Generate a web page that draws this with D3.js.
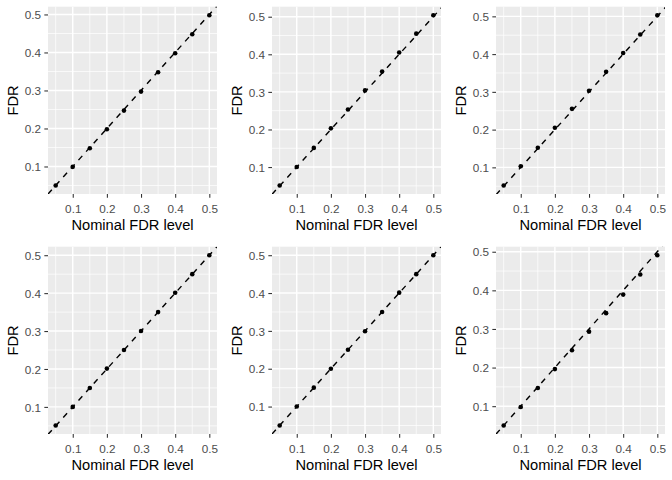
<!DOCTYPE html>
<html>
<head>
<meta charset="utf-8">
<script src="https://cdn.jsdelivr.net/npm/d3@7"></script>
<style>
  body { margin: 0; background: #fff; }
  text { font-family: "Liberation Sans", Arial, Helvetica, sans-serif; }
</style>
</head>
<body>
<svg id="chart" width="672" height="480"></svg>
<script>
// nominal FDR levels, shared by all panels
let nominal = [0.05, 0.10, 0.15, 0.20, 0.25, 0.30, 0.35, 0.40, 0.45, 0.50];

let fdrA = [0.050, 0.099, 0.148, 0.198, 0.247, 0.297, 0.348, 0.398, 0.448, 0.498];
let fdrB = [0.051, 0.100, 0.151, 0.203, 0.253, 0.304, 0.354, 0.405, 0.455, 0.504];
let fdrC = [0.052, 0.103, 0.152, 0.205, 0.255, 0.303, 0.353, 0.403, 0.452, 0.503];
let fdrD = [0.051, 0.100, 0.150, 0.201, 0.250, 0.300, 0.350, 0.401, 0.450, 0.500];
let fdrE = [0.050, 0.100, 0.150, 0.200, 0.250, 0.299, 0.350, 0.401, 0.450, 0.500];
let fdrF = [0.050, 0.098, 0.147, 0.196, 0.245, 0.293, 0.341, 0.389, 0.441, 0.491];

let tickValues = [0.1, 0.2, 0.3, 0.4, 0.5];
let minorValues = [0.05, 0.15, 0.25, 0.35, 0.45];
let xTitle = "Nominal FDR level";
let yTitle = "FDR";

let panels = [fdrA, fdrB, fdrC, fdrD, fdrE, fdrF];

let svg = d3.select("#chart");

let cellW = 224, cellH = 240;
let margin = {left: 48, right: 7, top: 6.7, bottom: 46};
let pw = cellW - margin.left - margin.right;
let ph = cellH - margin.top - margin.bottom;

// ggplot style continuous expansion, 5% each side
function expand(ext) {
    let d = (ext[1] - ext[0]) * 0.05;
    return [ext[0] - d, ext[1] + d];
}

function drawPanel(values, i) {
    let col = i % 3, row = Math.floor(i / 3);
    let g = svg.append("g")
        .attr("transform", `translate(${col * cellW + margin.left},${row * cellH + margin.top})`);

    let x = d3.scaleLinear().domain(expand(d3.extent(nominal))).range([0, pw]);
    let y = d3.scaleLinear().domain(expand(d3.extent(values))).range([ph, 0]);

    g.append("rect")
        .attr("width", pw).attr("height", ph)
        .attr("fill", "#EBEBEB");

    let inX = v => v >= x.domain()[0] && v <= x.domain()[1];
    let inY = v => v >= y.domain()[0] && v <= y.domain()[1];

    // minor grid
    g.selectAll("line.vminor").data(minorValues.filter(inX)).enter()
        .append("line").classed("vminor", true)
        .attr("x1", d => x(d)).attr("x2", d => x(d))
        .attr("y1", 0).attr("y2", ph)
        .attr("stroke", "#fff").attr("stroke-width", 0.71);
    g.selectAll("line.hminor").data(minorValues.filter(inY)).enter()
        .append("line").classed("hminor", true)
        .attr("y1", d => y(d)).attr("y2", d => y(d))
        .attr("x1", 0).attr("x2", pw)
        .attr("stroke", "#fff").attr("stroke-width", 0.71);

    // major grid
    g.selectAll("line.vmajor").data(tickValues.filter(inX)).enter()
        .append("line").classed("vmajor", true)
        .attr("x1", d => x(d)).attr("x2", d => x(d))
        .attr("y1", 0).attr("y2", ph)
        .attr("stroke", "#fff").attr("stroke-width", 1.42);
    g.selectAll("line.hmajor").data(tickValues.filter(inY)).enter()
        .append("line").classed("hmajor", true)
        .attr("y1", d => y(d)).attr("y2", d => y(d))
        .attr("x1", 0).attr("x2", pw)
        .attr("stroke", "#fff").attr("stroke-width", 1.42);

    // y = x reference line, clipped to panel
    let clipId = "clip" + i;
    g.append("clipPath").attr("id", clipId)
        .append("rect").attr("width", pw).attr("height", ph);
    let lo = Math.min(x.domain()[0], y.domain()[0]);
    let hi = Math.max(x.domain()[1], y.domain()[1]);
    g.append("line")
        .attr("clip-path", `url(#${clipId})`)
        .attr("x1", x(lo)).attr("y1", y(lo))
        .attr("x2", x(hi)).attr("y2", y(hi))
        .attr("stroke", "#000").attr("stroke-width", 1.42)
        .attr("stroke-dasharray", "5.7,5.7");

    // points
    g.selectAll("circle.pt").data(values).enter()
        .append("circle").classed("pt", true)
        .attr("cx", (d, j) => x(nominal[j]))
        .attr("cy", d => y(d))
        .attr("r", 2.3)
        .attr("fill", "#000");

    // axes
    let xAxis = g.append("g")
        .attr("transform", `translate(0,${ph})`)
        .call(d3.axisBottom(x).tickValues(tickValues).tickSize(3.67).tickPadding(4.5).tickFormat(d3.format(".1f")));
    let yAxis = g.append("g")
        .call(d3.axisLeft(y).tickValues(tickValues.filter(inY)).tickSize(3.67).tickPadding(3.2).tickFormat(d3.format(".1f")));

    [xAxis, yAxis].forEach(a => {
        a.select(".domain").remove();
        a.selectAll(".tick line").attr("stroke", "#333333").attr("stroke-width", 1.07);
        a.selectAll(".tick text")
            .attr("fill", "#4D4D4D")
            .style("font-size", "11.73px")
            .style("font-family", "'Liberation Sans', Arial, Helvetica, sans-serif");
    });
    xAxis.selectAll(".tick text").attr("dy", null).attr("y", 18.6);
    yAxis.selectAll(".tick text").attr("dy", "0.36em");

    g.append("text")
        .attr("x", pw / 2).attr("y", ph + 36)
        .attr("text-anchor", "middle")
        .style("font-size", "14.67px")
        .attr("fill", "#000")
        .text(xTitle);

    g.append("text")
        .attr("transform", `translate(${-margin.left + 17.5},${ph / 2}) rotate(-90)`)
        .attr("text-anchor", "middle")
        .style("font-size", "14.67px")
        .attr("fill", "#000")
        .text(yTitle);
}

panels.forEach(drawPanel);
</script>
</body>
</html>
